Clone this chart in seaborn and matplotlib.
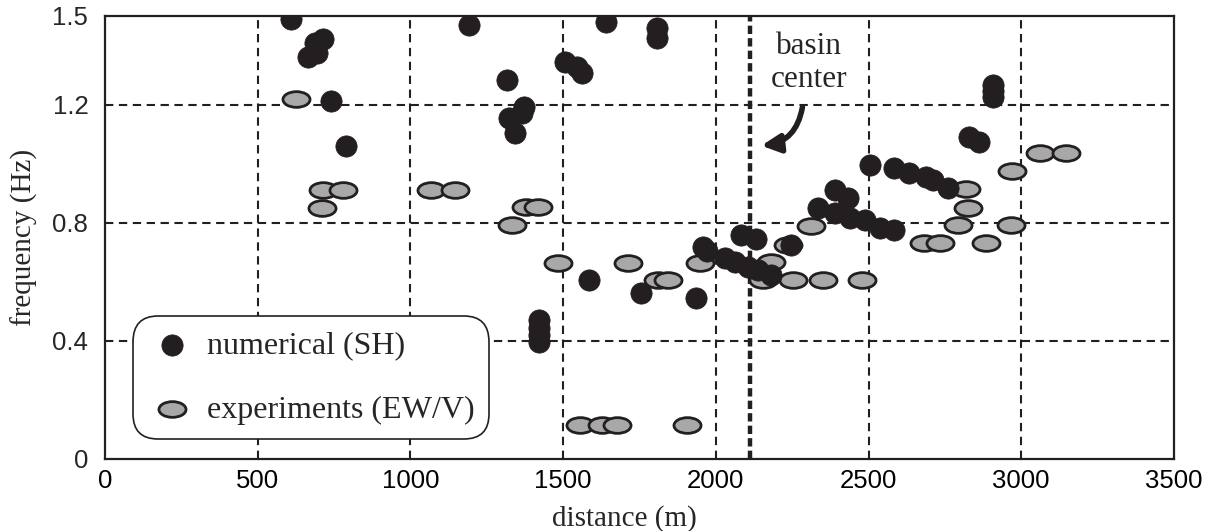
import numpy as np
import pandas as pd
import seaborn as sns
import matplotlib.pyplot as plt
from matplotlib.path import Path

###### Data ######################################

# numerical results (SH), black dots
num_distance = [609, 664, 693, 686, 713, 740, 789, 1192, 1317, 1371, 1365, 1322, 1344,
                1420, 1420, 1420, 1420, 1507, 1545, 1562, 1586, 1640, 1754, 1807, 1807,
                1934, 1959, 1970, 2030, 2062, 2084, 2106, 2133, 2138, 2182, 2247, 2334,
                2389, 2389, 2432, 2438, 2487, 2506, 2536, 2582, 2585, 2634, 2688, 2710,
                2759, 2829, 2862, 2906, 2906, 2906]
num_freq = [1.490, 1.362, 1.374, 1.410, 1.421, 1.213, 1.060, 1.470, 1.283, 1.193, 1.170, 1.154, 1.103,
            0.471, 0.445, 0.420, 0.397, 1.345, 1.328, 1.306, 0.606, 1.481, 0.561, 1.458, 1.426,
            0.544, 0.719, 0.705, 0.680, 0.668, 0.759, 0.651, 0.744, 0.640, 0.623, 0.725, 0.849,
            0.911, 0.832, 0.883, 0.815, 0.809, 0.996, 0.781, 0.984, 0.775, 0.967, 0.956, 0.945,
            0.917, 1.091, 1.075, 1.267, 1.247, 1.227]

# experiments (EW/V), grey ellipses
exp_distance = [626, 709, 713, 778, 1067, 1145, 1331, 1377, 1418, 1483, 1556, 1627, 1676,
                1714, 1812, 1845, 1907, 1948, 2155, 2182, 2236, 2253, 2313, 2351, 2479,
                2683, 2735, 2794, 2819, 2827, 2884, 2965, 2971, 3063, 3145]
exp_freq = [1.218, 0.851, 0.911, 0.911, 0.911, 0.911, 0.792, 0.852, 0.852, 0.665, 0.115, 0.115, 0.115,
            0.665, 0.606, 0.606, 0.115, 0.663, 0.606, 0.668, 0.725, 0.606, 0.789, 0.606, 0.606,
            0.733, 0.730, 0.792, 0.913, 0.849, 0.730, 0.792, 0.976, 1.035, 1.035]

basin_center = 2112
x_ticks = [0, 500, 1000, 1500, 2000, 2500, 3000, 3500]
y_ticks = [0, 0.4, 0.8, 1.2, 1.5]
y_tick_labels = ['0', '0.4', '0.8', '1.2', '1.5']
y_minor = [0.2, 0.6, 1.0, 1.4]

df_num = pd.DataFrame({'distance': num_distance, 'frequency': num_freq})
df_exp = pd.DataFrame({'distance': exp_distance, 'frequency': exp_freq})

###### Style ######################################

sns.set_style('white')
plt.rcParams['font.family'] = ['Liberation Sans', 'DejaVu Sans']
plt.rcParams['lines.scale_dashes'] = False
serif = ['Liberation Serif', 'DejaVu Serif']
ink = '#231f20'

# flattened circle used as the marker of the experiments
circle = Path.unit_circle()
ellipse = Path(circle.vertices * np.array([1.0, 0.58]), circle.codes)

fig = plt.figure(figsize=(12.07, 5.31), dpi=100)
ax = fig.add_axes([0.087, 0.1356, 0.8856, 0.8343])

# dashed grid, drawn by hand so it skips the frame
for x in [500, 1000, 1500, 2000, 2500, 3000]:
    ax.axvline(x, color=ink, lw=1.5, ls=(0, (6, 4)), zorder=1)
for y in [0.4, 0.8, 1.2]:
    ax.axhline(y, color=ink, lw=1.5, ls=(0, (6, 4)), zorder=1)
ax.axvline(basin_center, color=ink, lw=3.2, ls=(0, (6, 3)), zorder=1)

sns.scatterplot(data=df_exp, x='distance', y='frequency', ax=ax, marker=ellipse, s=380,
                color='#a8a8a8', edgecolor=ink, linewidth=2.0, zorder=3,
                label='experiments (EW/V)')
sns.scatterplot(data=df_num, x='distance', y='frequency', ax=ax, marker='o', s=235,
                color=ink, edgecolor=ink, linewidth=0.5, zorder=4,
                label='numerical (SH)')

###### Axes ######################################

ax.set_xlim(0, 3500)
ax.set_ylim(0, 1.5)
ax.set_xticks(x_ticks)
ax.set_yticks(y_ticks)
ax.set_yticklabels(y_tick_labels)
ax.set_yticks(y_minor, minor=True)
ax.tick_params(axis='x', length=0, pad=7, labelsize=18.5, colors='black')
ax.tick_params(axis='y', which='both', direction='in', length=11, width=1.6,
               pad=12, labelsize=18.5, color=ink)
for sp in ax.spines.values():
    sp.set_color(ink)
    sp.set_linewidth(1.6)

ax.set_xlabel('distance (m)', family=serif, fontsize=21)
ax.set_ylabel('frequency (Hz)', family=serif, fontsize=21)
ax.xaxis.set_label_coords(0.4855, -0.104)
ax.yaxis.set_label_coords(-0.0627, 0.5)

# basin center note
ax.text(2305, 1.341, 'basin\ncenter', family=serif, fontsize=22.5, ha='center',
        va='center', linespacing=1.2)
ax.annotate('', xy=(2140, 1.06), xytext=(2285, 1.20),
            arrowprops=dict(arrowstyle='-|>,head_length=1.1,head_width=0.55', color=ink,
                            lw=4, connectionstyle='arc3,rad=-0.4'))

# legend, numerical first
h, l = ax.get_legend_handles_labels()
leg = ax.legend(h[::-1], l[::-1], loc='lower left', bbox_to_anchor=(0.026, 0.045),
                borderaxespad=0, prop={'family': serif, 'size': 23}, frameon=True,
                fancybox=True, borderpad=0.45, handlelength=1.58, handletextpad=0.3,
                labelspacing=1.1)
frame = leg.get_frame()
frame.set_edgecolor(ink)
frame.set_linewidth(1.2)
frame.set_alpha(1)
frame.set_boxstyle('round,pad=0,rounding_size=0.8')

fig.savefig('out.png', dpi=100)
